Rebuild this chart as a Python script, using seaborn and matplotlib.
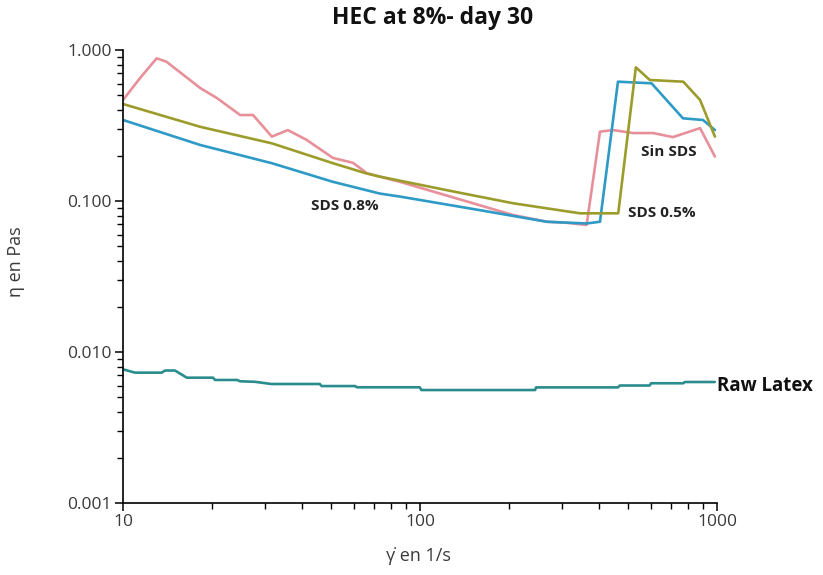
import matplotlib
matplotlib.use("Agg")
import matplotlib.pyplot as plt
import matplotlib.ticker as mticker
import numpy as np
import pandas as pd
import seaborn as sns

# Shear-rate sweeps (x: shear rate in 1/s, y: viscosity in Pa·s)
sin_sds_x = [10, 11.5, 12.98, 14.0, 18.2, 20.7, 24.8, 27.4, 31.7, 35.9, 41.5, 50.9,
             59.5, 66.2, 73.3, 85.6, 205.6, 267.7, 312.6, 363.9, 403.6, 446.5,
             521, 609, 711, 877, 984]
sin_sds_y = [0.467, 0.665, 0.881, 0.837, 0.560, 0.481, 0.371, 0.371, 0.267, 0.295,
             0.254, 0.193, 0.179, 0.153, 0.145, 0.134, 0.0808, 0.0729, 0.0717,
             0.0694, 0.288, 0.295, 0.282, 0.282, 0.265, 0.304, 0.197]

sds08_x = [10, 18.2, 31.7, 50.9, 73.3, 85.6, 159, 267, 363.9, 403.6, 464, 602,
           768, 897, 984]
sds08_y = [0.344, 0.235, 0.178, 0.134, 0.112, 0.107, 0.087, 0.0729, 0.071, 0.0729,
           0.617, 0.602, 0.353, 0.344, 0.295]

sds05_x = [10, 18.2, 31.7, 50.9, 66.2, 73.3, 123, 206, 345.7, 465, 533, 594, 770,
           877, 984]
sds05_y = [0.439, 0.310, 0.241, 0.178, 0.152, 0.145, 0.118, 0.0966, 0.0829, 0.0829,
           0.768, 0.633, 0.617, 0.467, 0.267]

raw_x = [10, 10.97, 13.5, 13.85, 14.96, 16.4, 20.1, 20.4, 24.2, 24.8, 27.8, 31.6,
         46.0, 46.6, 60.5, 61.3, 99.8, 101, 136, 244, 246, 464, 471, 593, 600,
         770, 779, 983]
raw_y = [0.00768, 0.00730, 0.00730, 0.00754, 0.00754, 0.00676, 0.00676, 0.00653,
         0.00653, 0.00640, 0.00635, 0.00614, 0.00614, 0.00595, 0.00595, 0.00584,
         0.00584, 0.00560, 0.00560, 0.00560, 0.00583, 0.00583, 0.00600, 0.00600,
         0.00621, 0.00621, 0.00633, 0.00633]

series = {
    "Sin SDS": (sin_sds_x, sin_sds_y),
    "SDS 0.8%": (sds08_x, sds08_y),
    "SDS 0.5%": (sds05_x, sds05_y),
    "Raw Latex": (raw_x, raw_y),
}
palette = {
    "Sin SDS": "#E8909A",
    "SDS 0.8%": "#2E9AC6",
    "SDS 0.5%": "#9C9C2C",
    "Raw Latex": "#2A8C8C",
}

frames = [pd.DataFrame({"rate": x, "eta": y, "sample": name})
          for name, (x, y) in series.items()]
df = pd.concat(frames, ignore_index=True)

sns.set_style("white")
plt.rcParams["font.family"] = ["Open Sans", "DejaVu Sans"]

fig = plt.figure(figsize=(8.23, 5.75), dpi=100)
ax = fig.add_axes([0.1495, 0.1252, 0.7217, 0.7878])

sns.lineplot(data=df, x="rate", y="eta", hue="sample", palette=palette,
             estimator=None, sort=False, linewidth=1.9, legend=False, ax=ax)

ax.set_xscale("log")
ax.set_yscale("log")
ax.set_xlim(10, 1000)
ax.set_ylim(0.001, 1.0)

ax.xaxis.set_major_locator(mticker.FixedLocator([10, 100, 1000]))
ax.xaxis.set_major_formatter(mticker.FixedFormatter(["10", "100", "1000"]))
ax.yaxis.set_major_locator(mticker.FixedLocator([0.001, 0.01, 0.1, 1.0]))
ax.yaxis.set_major_formatter(mticker.FixedFormatter(["0.001", "0.010", "0.100", "1.000"]))
ax.xaxis.set_minor_locator(mticker.LogLocator(base=10, subs=np.arange(2, 10)))
ax.yaxis.set_minor_locator(mticker.LogLocator(base=10, subs=np.arange(2, 10)))
ax.xaxis.set_minor_formatter(mticker.NullFormatter())
ax.yaxis.set_minor_formatter(mticker.NullFormatter())

for s in ("top", "right"):
    ax.spines[s].set_visible(False)
for s in ("left", "bottom"):
    ax.spines[s].set_color("black")
    ax.spines[s].set_linewidth(1.2)

ax.tick_params(which="major", direction="out", length=6, width=1.1,
               color="black", labelsize=12.5, labelcolor="#3a3a3a",
               left=True, bottom=True, pad=2)
ax.tick_params(which="minor", direction="out", length=4, width=1.0,
               color="black", left=True, bottom=True)

ax.set_xlabel("γ̇ en 1/s", fontsize=13, color="#3a3a3a")
ax.xaxis.set_label_coords(0.497, -0.097)
ax.set_ylabel("η en Pas", fontsize=13, color="#3a3a3a")
ax.yaxis.set_label_coords(-0.165, 0.532)

fig.text(0.525, 0.968, "HEC at 8%- day 30", fontsize=16.5, fontweight="bold",
         color="#111111", ha="center", va="center")

ax.text(56, 0.0927, "SDS 0.8%", fontsize=11, fontweight="bold",
        color="#222222", ha="center", va="center")
ax.text(501, 0.0833, "SDS 0.5%", fontsize=11, fontweight="bold",
        color="#222222", ha="left", va="center")
ax.text(555, 0.211, "Sin SDS", fontsize=11, fontweight="bold",
        color="#222222", ha="left", va="center")
ax.text(1003, 0.0060, "Raw Latex", fontsize=13.5, fontweight="bold",
        color="#111111", ha="left", va="center", clip_on=False)

fig.savefig("out.png", dpi=100)
